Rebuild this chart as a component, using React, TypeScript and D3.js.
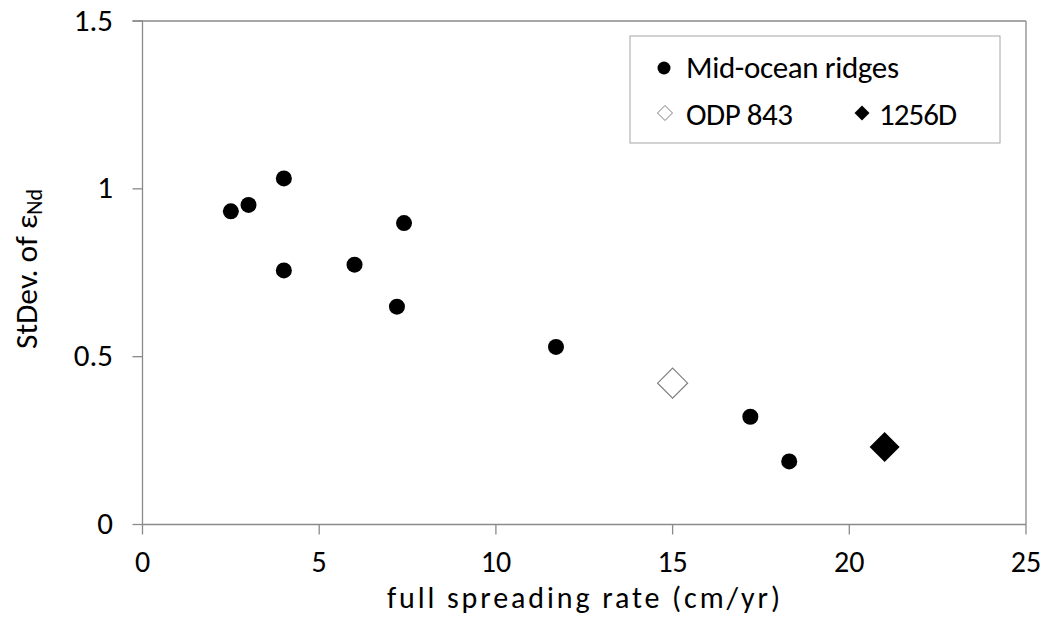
import React from "react";
import * as d3 from "d3";

const ridgeRate = [2.5, 3, 4, 4, 6, 7.2, 7.4, 11.7, 17.2, 18.3];
const ridgeSd = [0.933, 0.952, 1.031, 0.757, 0.774, 0.649, 0.898, 0.529, 0.321, 0.188];
const odpRate = [15];
const odpSd = [0.421];
const hole1256Rate = [21];
const hole1256Sd = [0.231];
const xTicks = [0, 5, 10, 15, 20, 25];
const yTicks = [0, 0.5, 1, 1.5];

const W = 1049;
const H = 623;
const L = 142.5, R = 1026, T = 21, B = 524.5;
const FONT = "Carlito, Calibri, Lato, 'Open Sans', sans-serif";
const AX = "#8a8a8a";

export default function App() {
  const x = d3.scaleLinear().domain([0, 25]).range([L, R]);
  const y = d3.scaleLinear().domain([0, 1.5]).range([B, T]);
  const diamond = (cx: number, cy: number, h: number) =>
    `M${cx},${cy - h}L${cx + h},${cy}L${cx},${cy + h}L${cx - h},${cy}Z`;

  return (
    <svg width={W} height={H} style={{ position: "absolute", left: 0, top: 0, background: "#fff" }}>
      <rect x={0} y={0} width={W} height={H} fill="#fff" />
      {/* plot frame */}
      <line x1={L} y1={T} x2={L} y2={B} stroke={AX} strokeWidth={1.3} />
      <line x1={L} y1={B} x2={R} y2={B} stroke={AX} strokeWidth={1.3} />
      <line x1={L - 10} y1={T} x2={R} y2={T} stroke={AX} strokeWidth={1.3} />
      <line x1={R} y1={T} x2={R} y2={B} stroke={AX} strokeWidth={1.3} />
      {yTicks.map((t) => (
        <g key={"y" + t}>
          <line x1={L - 10} x2={L} y1={y(t)} y2={y(t)} stroke={AX} strokeWidth={1.3} />
          <text x={113} y={y(t) + 9.5} textAnchor="end" fontFamily={FONT} fontSize={31} fill="#000">
            {t}
          </text>
        </g>
      ))}
      {xTicks.map((t) => (
        <g key={"x" + t}>
          <line x1={x(t)} x2={x(t)} y1={B} y2={B + 10} stroke={AX} strokeWidth={1.3} />
          <text x={x(t)} y={572} textAnchor="middle" fontFamily={FONT} fontSize={30} fill="#000">
            {t}
          </text>
        </g>
      ))}
      <text x={387} y={608} fontFamily={FONT} fontSize={30} fill="#000" textLength={393} lengthAdjust="spacing">
        full spreading rate (cm/yr)
      </text>
      <text
        transform={`translate(37,269) rotate(-90)`}
        textAnchor="middle"
        fontFamily={FONT}
        fontSize={31.5}
        fill="#000"
      >
        StDev. of ε<tspan fontSize={22} dy={5}>Nd</tspan>
      </text>
      {/* points */}
      {ridgeRate.map((r, i) => (
        <circle key={"c" + i} cx={x(r)} cy={y(ridgeSd[i])} r={8} fill="#000" />
      ))}
      {odpRate.map((r, i) => (
        <path key={"o" + i} d={diamond(x(r), y(odpSd[i]), 15)} fill="#fff" stroke="#7f7f7f" strokeWidth={1.2} />
      ))}
      {hole1256Rate.map((r, i) => (
        <path key={"h" + i} d={diamond(x(r), y(hole1256Sd[i]), 15)} fill="#000" />
      ))}
      {/* legend */}
      <rect x={630} y={36} width={370} height={107} fill="#fff" stroke="#a6a6a6" strokeWidth={1} />
      <circle cx={664} cy={68} r={6.5} fill="#000" />
      <text x={686} y={78} fontFamily={FONT} fontSize={31} fill="#000" textLength={213} lengthAdjust="spacing">Mid-ocean ridges</text>
      <path d={diamond(665, 113, 7.5)} fill="#fff" stroke="#7f7f7f" strokeWidth={1} />
      <text x={686} y={125} fontFamily={FONT} fontSize={31} fill="#000" textLength={107} lengthAdjust="spacing">ODP 843</text>
      <path d={diamond(862, 113, 7.5)} fill="#000" />
      <text x={879} y={125} fontFamily={FONT} fontSize={31} fill="#000" textLength={78} lengthAdjust="spacing">1256D</text>
    </svg>
  );
}
